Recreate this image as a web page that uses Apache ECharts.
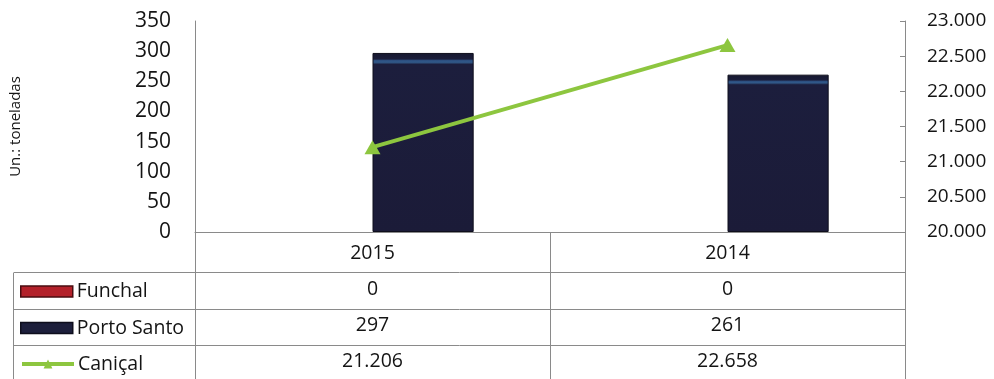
<!DOCTYPE html>
<html>
<head>
<meta charset="utf-8">
<script src="https://cdn.jsdelivr.net/npm/echarts@6/dist/echarts.min.js"></script>
<style>
  html, body { margin: 0; padding: 0; background: #fff; }
  #chart { width: 994px; height: 379px; }
</style>
</head>
<body>
<div id="chart"></div>
<script>
// Years shown as columns of the chart and of the data table below it
const years = ['2015', '2014'];
// Quantities per port (tonnes)
const funchal = [0, 0];
const portoSanto = [297, 261];
const canical = [21206, 22658];
const seriesNames = ['Funchal', 'Porto Santo', 'Caniçal'];

const FONT = '"Open Sans", Lato, sans-serif';
const GRID_COLOR = '#8a8a8a';
const TEXT_COLOR = '#141414';
const GREEN = '#8dc63f';

// Portuguese thousands separator
function fmt(v) {
  return String(v).replace(/\B(?=(\d{3})+(?!\d))/g, '.');
}

const chart = echarts.init(document.getElementById('chart'), null, { renderer: 'canvas' });

const barFill = {
  type: 'linear', x: 0, y: 0, x2: 0, y2: 1,
  colorStops: [
    { offset: 0, color: '#16182f' },
    { offset: 0.034, color: '#1b1d3a' },
    { offset: 0.042, color: '#2c4f80' },
    { offset: 0.052, color: '#315a8a' },
    { offset: 0.064, color: '#1c1e3d' },
    { offset: 1, color: '#1b1b38' }
  ]
};

// one legend block per table row, so each sits in its own row
const rowCenters = [291.5, 328, 364];
const legendIcons = [
  { name: seriesNames[0], icon: 'rect', itemStyle: { color: '#b3212a', borderColor: '#4a0c10', borderWidth: 1.5 } },
  { name: seriesNames[1], icon: 'rect', itemStyle: { color: '#1d1f3c', borderColor: '#0e0e1c', borderWidth: 1.5 } },
  { name: seriesNames[2], lineStyle: { color: GREEN, width: 4 }, itemStyle: { color: GREEN } }
];
const legends = legendIcons.map(function (item, i) {
  return {
    orient: 'vertical',
    left: 20,
    top: rowCenters[i] - 11,
    padding: 0,
    itemWidth: 52,
    itemHeight: 11,
    selectedMode: false,
    data: [item],
    textStyle: { fontFamily: FONT, fontSize: 19.5, lineHeight: 22, color: TEXT_COLOR, padding: [0, 0, 0, -1] }
  };
});

const option = {
  animation: false,
  backgroundColor: '#ffffff',
  textStyle: { fontFamily: FONT },
  grid: { left: 194, right: 89, top: 21, bottom: 143, containLabel: false },
  legend: legends,
  xAxis: {
    type: 'category',
    data: years,
    boundaryGap: true,
    axisLine: { show: true, lineStyle: { color: GRID_COLOR, width: 1 } },
    axisTick: { show: true, length: 150, lineStyle: { color: GRID_COLOR, width: 1 } },
    axisLabel: {
      margin: 3,
      fontFamily: FONT,
      fontSize: 19.5,
      lineHeight: 36,
      color: TEXT_COLOR,
      formatter: function (value, idx) {
        return [value, fmt(funchal[idx]), fmt(portoSanto[idx]), fmt(canical[idx])].join('\n');
      }
    },
    splitLine: { show: false }
  },
  yAxis: [
    {
      type: 'value',
      min: 0, max: 350, interval: 50,
      name: 'Un.: toneladas',
      nameLocation: 'middle',
      nameGap: 172,
      nameRotate: 90,
      nameTextStyle: { fontFamily: FONT, fontSize: 15, color: TEXT_COLOR },
      axisLine: { show: true, lineStyle: { color: GRID_COLOR, width: 1 } },
      axisTick: { show: false },
      axisLabel: { margin: 24, fontFamily: FONT, fontSize: 21, color: TEXT_COLOR },
      splitLine: { show: false }
    },
    {
      type: 'value',
      min: 20000, max: 23000, interval: 500,
      position: 'right',
      axisLine: { show: true, lineStyle: { color: GRID_COLOR, width: 1 } },
      axisTick: { show: true, inside: true, length: 5, lineStyle: { color: GRID_COLOR } },
      axisLabel: { margin: 22, fontFamily: FONT, fontSize: 19, color: TEXT_COLOR, formatter: fmt },
      splitLine: { show: false }
    }
  ],
  series: [
    {
      name: 'Funchal',
      type: 'bar',
      data: funchal,
      barGap: '0%',
      barCategoryGap: '43%',
      itemStyle: { color: '#b3212a', borderWidth: 0 }
    },
    {
      name: 'Porto Santo',
      type: 'bar',
      data: portoSanto,
      barGap: '0%',
      barCategoryGap: '43%',
      itemStyle: { color: barFill, borderColor: '#0e0e1c', borderWidth: 1 }
    },
    {
      name: 'Caniçal',
      type: 'line',
      yAxisIndex: 1,
      data: canical,
      z: 5,
      symbol: 'triangle',
      symbolSize: [16, 14],
      lineStyle: { color: GREEN, width: 4 },
      itemStyle: { color: GREEN }
    }
  ],
  graphic: [
    // data table row separators and left border
    { type: 'line', shape: { x1: 14, y1: 272.5, x2: 905, y2: 272.5 }, style: { stroke: GRID_COLOR, lineWidth: 1 }, silent: true },
    { type: 'line', shape: { x1: 14, y1: 309.5, x2: 905, y2: 309.5 }, style: { stroke: GRID_COLOR, lineWidth: 1 }, silent: true },
    { type: 'line', shape: { x1: 14, y1: 345.5, x2: 905, y2: 345.5 }, style: { stroke: GRID_COLOR, lineWidth: 1 }, silent: true },
    { type: 'line', shape: { x1: 13.5, y1: 272.5, x2: 13.5, y2: 379 }, style: { stroke: GRID_COLOR, lineWidth: 1 }, silent: true }
  ]
};

chart.setOption(option);
</script>
</body>
</html>
